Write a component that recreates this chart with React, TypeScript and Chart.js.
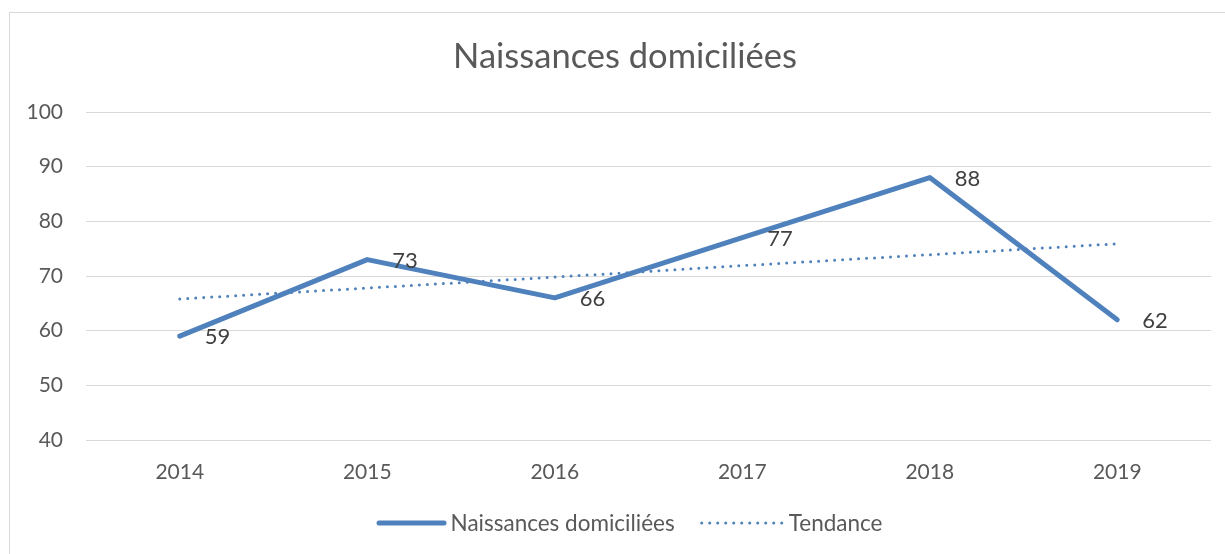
import React, { useEffect, useRef } from "react";
import { Chart, registerables } from "chart.js";

Chart.register(...registerables);

const TITLE = "Naissances domiciliées";
const CATEGORIES = ["2014", "2015", "2016", "2017", "2018", "2019"];
const SERIES_NAME = "Naissances domiciliées";
const SERIES_VALUES = [59, 73, 66, 77, 88, 62];
const TREND_NAME = "Tendance";
const TREND_VALUES = [65.8, 67.8, 69.8, 71.9, 73.9, 75.9];
const Y_MIN = 40;
const Y_MAX = 100;
const Y_STEP = 10;

const BLUE = "#4F81BD";
const FONT = "Lato, 'Open Sans', sans-serif";

const overlayPlugin = {
  id: "overlay",
  afterDatasetsDraw(chart: any) {
    const ctx = chart.ctx;
    ctx.save();
    // data labels
    const meta = chart.getDatasetMeta(0);
    ctx.font = `22px ${FONT}`;
    ctx.fillStyle = "#404040";
    ctx.textAlign = "left";
    ctx.textBaseline = "middle";
    meta.data.forEach((pt: any, i: number) => {
      ctx.fillText(String(SERIES_VALUES[i]), pt.x + 25, pt.y + 1);
    });
    // title
    ctx.font = `34.5px ${FONT}`;
    ctx.fillStyle = "#595959";
    ctx.textAlign = "center";
    ctx.fillText(TITLE, 625, 57);
    // legend
    ctx.font = `22.5px ${FONT}`;
    ctx.textAlign = "left";
    const w1 = ctx.measureText(SERIES_NAME).width;
    const w2 = ctx.measureText(TREND_NAME).width;
    const s1 = 70, s2 = 85, gap = 4, between = 25;
    const total = s1 + gap + w1 + between + s2 + gap + w2;
    let x = 629.5 - total / 2;
    const y = 523;
    ctx.strokeStyle = BLUE;
    ctx.lineCap = "round";
    ctx.lineWidth = 5;
    ctx.beginPath();
    ctx.moveTo(x + 2.5, y);
    ctx.lineTo(x + s1 - 2.5, y);
    ctx.stroke();
    x += s1 + gap;
    ctx.fillStyle = "#595959";
    ctx.fillText(SERIES_NAME, x, y + 1);
    x += w1 + between;
    ctx.lineWidth = 3;
    ctx.setLineDash([0, 8]);
    ctx.beginPath();
    ctx.moveTo(x + 2, y);
    ctx.lineTo(x + s2, y);
    ctx.stroke();
    ctx.setLineDash([]);
    x += s2 + gap;
    ctx.fillText(TREND_NAME, x, y + 1);
    ctx.restore();
  },
};

export default function App() {
  const ref = useRef<HTMLCanvasElement>(null);
  useEffect(() => {
    if (!ref.current) return;
    const chart = new Chart(ref.current, {
      type: "line",
      data: {
        labels: CATEGORIES,
        datasets: [
          {
            label: SERIES_NAME,
            data: SERIES_VALUES,
            borderColor: BLUE,
            backgroundColor: BLUE,
            borderWidth: 5,
            pointRadius: 0,
            tension: 0,
            borderCapStyle: "round",
            borderJoinStyle: "round",
          },
          {
            label: TREND_NAME,
            data: TREND_VALUES,
            borderColor: BLUE,
            backgroundColor: BLUE,
            borderWidth: 3,
            borderDash: [0, 8],
            borderCapStyle: "round",
            pointRadius: 0,
            tension: 0,
          },
        ],
      },
      options: {
        animation: false,
        responsive: true,
        maintainAspectRatio: false,
        layout: { padding: { top: 112, right: 14, left: 0, bottom: 0 } },
        plugins: {
          legend: { display: false },
          title: { display: false },
          tooltip: { enabled: false },
        },
        scales: {
          x: {
            offset: true,
            grid: { display: false, drawTicks: false },
            border: { display: false },
            ticks: {
              padding: 20,
              color: "#595959",
              font: { family: FONT, size: 21 },
              maxRotation: 0,
            },
            afterFit(scale: any) {
              scale.height = 114;
            },
          },
          y: {
            min: Y_MIN,
            max: Y_MAX,
            grid: { color: "#d9d9d9", lineWidth: 1, drawTicks: false },
            border: { display: false },
            ticks: {
              stepSize: Y_STEP,
              padding: 23,
              color: "#595959",
              font: { family: FONT, size: 21 },
            },
            afterFit(scale: any) {
              scale.width = 86;
            },
          },
        },
      },
      plugins: [overlayPlugin],
    });
    return () => chart.destroy();
  }, []);

  return (
    <>
      <div
        style={{
          position: "fixed",
          left: 9,
          top: 12,
          right: -10,
          bottom: -10,
          border: "1px solid #d9d9d9",
          background: "#fff",
        }}
      />
      <div style={{ position: "fixed", left: 0, top: 0, width: 1225, height: 554 }}>
        <canvas ref={ref} />
      </div>
    </>
  );
}
